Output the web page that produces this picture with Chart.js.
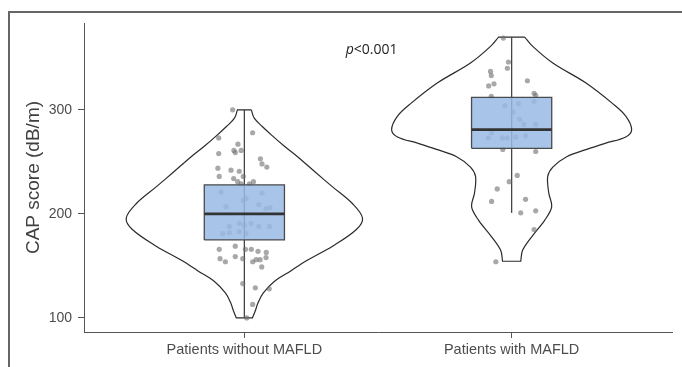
<!DOCTYPE html>
<html>
<head>
<meta charset="utf-8">
<script src="https://cdn.jsdelivr.net/npm/chart.js@4/dist/chart.umd.min.js"></script>
<style>
  body { margin: 0; background: #fff; }
  #wrap { position: relative; width: 682px; height: 367px; }
  #frame { position: absolute; left: 8px; top: 11px; right: 0; bottom: 0; border-left: 2px solid #666; border-top: 2px solid #666; pointer-events: none; }
</style>
</head>
<body>
<div id="wrap">
  <canvas id="chart" width="682" height="367"></canvas>
  <div id="frame"></div>
</div>
<script>
// categories and axis ticks
const categories = ['Patients without MAFLD', 'Patients with MAFLD'];
const yTicks = [100, 200, 300];
const yTitle = 'CAP score (dB/m)';
const pLabel = ['p', '<0.001'];
const pLabelPos = [1.476, 358];

// violin outlines: CAP value and half width (in category units)
const violin1Values = [300, 292, 284, 275, 265, 255, 240, 226, 210, 196, 185, 169, 155, 145, 135, 124, 115, 107, 100];
const violin1Width  = [0.026, 0.037, 0.067, 0.105, 0.150, 0.199, 0.266, 0.330, 0.404, 0.442, 0.419, 0.330, 0.232, 0.172, 0.112, 0.071, 0.052, 0.041, 0.030];
const violin2Values = [370, 361, 345, 326, 306, 294, 281, 274, 268, 262, 255, 245, 236, 220, 207, 194, 178, 165, 154.5];
const violin2Width  = [0.049, 0.079, 0.154, 0.277, 0.378, 0.427, 0.449, 0.427, 0.352, 0.281, 0.206, 0.154, 0.135, 0.139, 0.150, 0.124, 0.075, 0.041, 0.034];

// box stats: min, q1, median, q3, max
const box1 = [100, 175, 200, 228, 300];
const box2 = [201, 263, 281, 312, 370];
const boxHalf = 0.15;

// jittered observations (offset from category centre, value)
const jitter1X = [-0.044, 0.031, -0.096, -0.024, -0.039, -0.034, -0.012, -0.096, 0.060, 0.066, 0.084, -0.099, -0.050, -0.019, -0.094, -0.040, -0.004, -0.025, -0.012, 0.034, 0.019,
  -0.087, -0.004, 0.006, 0.066, -0.069, 0.054, 0.081, 0.096, -0.056, 0.025, 0.054, 0.094, -0.019, -0.081, -0.056, 0.006, -0.019, 0.000,
  -0.094, -0.034, 0.004, 0.026, 0.051, 0.082, -0.091, -0.071, -0.034, -0.006, 0.031, 0.044, 0.059, 0.081, 0.065, -0.006, 0.041, 0.093, 0.031, 0.009];
const jitter1Y = [300, 278, 273, 267, 261, 259, 261, 258, 253, 248, 245, 244, 242, 241, 236, 234, 236, 231, 229, 231, 229,
  221, 213, 215, 220, 207, 209, 205, 206, 188, 191, 188, 188, 183, 181, 182, 181, 191, 189,
  166, 169, 166, 166, 164, 163, 157, 154, 159, 157, 154, 156, 156, 158, 149, 133, 129, 128, 113, 100];
const jitter2X = [-0.031, -0.012, -0.016, -0.079, -0.076, 0.059, -0.066, -0.086, 0.084, 0.090, -0.076,
  -0.025, 0.025, 0.005, 0.030, 0.046, 0.090, 0.084, -0.087, -0.075, -0.035, -0.016, 0.015, 0.052,
  -0.033, 0.090, 0.021, -0.009, -0.054, -0.075, 0.052, 0.034, 0.090, 0.084, -0.059];
const jitter2Y = [369, 346, 340, 337, 333, 328, 325, 323, 316, 314, 313,
  304, 306, 298, 291, 286, 286, 308, 273, 278, 273, 273, 274, 275,
  262, 260, 237, 231, 224, 212, 214, 201, 203, 185, 154];

const axisColor = '#555';
const textColor = '#4d4d4d';
const fontFamily = '"Liberation Sans", Arial, sans-serif';

function violinPath(center, values, widths) {
  const right = values.map((v, i) => ({ x: center + widths[i], y: v }));
  const left = values.map((v, i) => ({ x: center - widths[i], y: v })).reverse();
  const n = right.length;
  // corners are doubled so the trimmed ends stay flat
  return [...right, right[n - 1], left[0], ...left, left[n - 1], right[0]];
}

function boxPath(center, stats) {
  const [, q1, , q3] = stats;
  return [
    { x: center - boxHalf, y: q1 }, { x: center - boxHalf, y: q3 },
    { x: center + boxHalf, y: q3 }, { x: center + boxHalf, y: q1 },
    { x: center - boxHalf, y: q1 }
  ];
}

function lineSet(data, color, width, order, extra) {
  return Object.assign({
    type: 'line', data, borderColor: color, borderWidth: width,
    pointRadius: 0, fill: false, tension: 0, order
  }, extra || {});
}

const datasets = [];
[[1, violin1Values, violin1Width, box1, jitter1X, jitter1Y],
 [2, violin2Values, violin2Width, box2, jitter2X, jitter2Y]].forEach(([c, vv, vw, box, jx, jy]) => {
  datasets.push(lineSet(violinPath(c, vv, vw), '#2a2a2a', 1.2, 10, { tension: 0.35 }));
  datasets.push(lineSet([{ x: c, y: box[0] }, { x: c, y: box[4] }], '#444', 1.3, 8));
  datasets.push({
    type: 'scatter', order: 6,
    data: jx.map((dx, i) => ({ x: c + dx, y: jy[i] })),
    pointRadius: 2.6, pointBorderWidth: 0,
    pointBackgroundColor: 'rgba(110,110,110,0.6)'
  });
  datasets.push(lineSet(boxPath(c, box), '#4a4a4a', 1.3, 4, { fill: 'shape', backgroundColor: 'rgba(153,186,228,0.85)' }));
  datasets.push(lineSet([{ x: c - boxHalf, y: box[2] }, { x: c + boxHalf, y: box[2] }], '#333', 2.6, 2));
});

const pValuePlugin = {
  id: 'pValue',
  afterDatasetsDraw(chart) {
    const ctx = chart.ctx;
    const x = chart.scales.x.getPixelForValue(pLabelPos[0]);
    const y = chart.scales.y.getPixelForValue(pLabelPos[1]);
    ctx.save();
    ctx.fillStyle = '#222';
    ctx.textBaseline = 'middle';
    ctx.textAlign = 'left';
    ctx.font = 'italic 14px "Open Sans"';
    const w1 = ctx.measureText(pLabel[0]).width;
    ctx.font = '14px "Open Sans"';
    const w2 = ctx.measureText(pLabel[1]).width;
    const left = x - (w1 + w2) / 2;
    ctx.font = 'italic 14px "Open Sans"';
    ctx.fillText(pLabel[0], left, y);
    ctx.font = '14px "Open Sans"';
    ctx.fillText(pLabel[1], left + w1, y);
    ctx.restore();
  }
};

new Chart(document.getElementById('chart'), {
  type: 'scatter',
  data: { datasets },
  plugins: [pValuePlugin],
  options: {
    responsive: false,
    animation: false,
    devicePixelRatio: 1,
    layout: { padding: { top: 23, right: 10, left: 0, bottom: 0 } },
    plugins: { legend: { display: false }, tooltip: { enabled: false } },
    scales: {
      x: {
        type: 'linear', min: 0.4, max: 2.6,
        afterBuildTicks: s => { s.ticks = categories.map((_, i) => ({ value: i + 1 })); },
        afterFit: s => { s.height = 35; },
        grid: { drawOnChartArea: false, tickLength: 6, color: axisColor },
        border: { color: axisColor, width: 1 },
        ticks: {
          autoSkip: false, maxRotation: 0, padding: 3, color: textColor,
          font: { family: fontFamily, size: 14.5 },
          callback: v => categories[v - 1]
        }
      },
      y: {
        type: 'linear', min: 86.5, max: 383.5,
        afterBuildTicks: s => { s.ticks = yTicks.map(v => ({ value: v })); },
        afterFit: s => { s.width = 84; },
        grid: { drawOnChartArea: false, tickLength: 6, color: axisColor },
        border: { color: axisColor, width: 1 },
        ticks: {
          padding: 6, color: textColor,
          font: { family: fontFamily, size: 14 }
        },
        title: {
          display: true, text: yTitle, color: '#404040',
          padding: { top: 22, bottom: 0 },
          font: { family: fontFamily, size: 19 }
        }
      }
    }
  }
});
</script>
</body>
</html>
